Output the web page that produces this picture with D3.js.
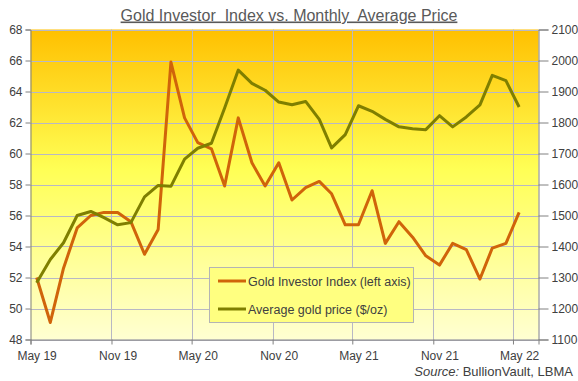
<!DOCTYPE html>
<html><head><meta charset="utf-8">
<script src="https://cdn.jsdelivr.net/npm/d3@7"></script>
<style>body{margin:0;background:#fff;} text{font-family:"Liberation Sans",Arial,sans-serif;}</style>
</head><body><svg id="c" width="578" height="381"></svg>
<script>
// Months May 2019 .. May 2022 (37 points)
const startMonth = [2019, 4]; // year, zero-based month (May 2019)
const investorIndex = [52.0,49.1,52.6,55.2,56.0,56.2,56.2,55.6,53.5,55.1,65.9,62.3,60.7,60.3,57.9,62.3,59.4,57.9,59.4,57.0,57.8,58.2,57.4,55.4,55.4,57.6,54.2,55.6,54.6,53.4,52.8,54.2,53.8,51.9,53.9,54.2,56.2];
const goldPrice = [1283,1358,1412,1500,1513,1493,1470,1477,1560,1597,1594,1682,1717,1733,1847,1969,1926,1904,1866,1857,1868,1810,1718,1761,1854,1836,1810,1786,1780,1777,1822,1786,1818,1857,1952,1935,1850];
const leftTicks = [48,50,52,54,56,58,60,62,64,66,68];
const rightTicks = [1100,1200,1300,1400,1500,1600,1700,1800,1900,2000,2100];
const xTickLabels = ["May 19","Nov 19","May 20","Nov 20","May 21","Nov 21","May 22"];
const seriesNames = ["Gold Investor Index (left axis)","Average gold price ($/oz)"];

const svg = d3.select("#c");
const L = 30.5, R = 538.5, T = 29.5, B = 339.5;

const dates = investorIndex.map((d,i)=> new Date(startMonth[0], startMonth[1]+i, 15));
const x = d3.scaleTime().domain([new Date(2019,4,1), new Date(2022,5,28)]).range([L,R]);
const yL = d3.scaleLinear().domain([48,68]).range([B,T]);
const yR = d3.scaleLinear().domain([1100,2100]).range([B,T]);

const defs = svg.append("defs");
const g = defs.append("linearGradient").attr("id","bg").attr("x1",0).attr("y1",0).attr("x2",0).attr("y2",1);
g.append("stop").attr("offset","0%").attr("stop-color","#FFC000");
g.append("stop").attr("offset","45%").attr("stop-color","#FFFF55");
g.append("stop").attr("offset","100%").attr("stop-color","#FFFFD2");
svg.append("rect").attr("x",L).attr("y",T).attr("width",R-L).attr("height",B-T).attr("fill","url(#bg)");

const tickDates = xTickLabels.map((s,i)=> new Date(2019, 4+6*i, 1));
// grid
svg.append("g").selectAll("line").data(leftTicks).join("line")
  .attr("x1",L).attr("x2",R).attr("y1",d=>Math.round(yL(d))+0.5).attr("y2",d=>Math.round(yL(d))+0.5)
  .attr("stroke","#B8B8C4").attr("stroke-width",1);
svg.append("g").selectAll("line").data(tickDates.slice(1)).join("line")
  .attr("x1",d=>Math.round(x(d))+0.5).attr("x2",d=>Math.round(x(d))+0.5).attr("y1",T).attr("y2",B)
  .attr("stroke","#B8B8C4").attr("stroke-width",1);

// axes
const axL = svg.append("g").attr("transform",`translate(${L},0)`)
  .call(d3.axisLeft(yL).tickValues(leftTicks).tickSize(5).tickPadding(3).tickFormat(d3.format("d")));
const axR = svg.append("g").attr("transform",`translate(${R},0)`)
  .call(d3.axisRight(yR).tickValues(rightTicks).tickSize(10).tickPadding(3).tickFormat(d3.format("d")));
const axB = svg.append("g").attr("transform",`translate(0,${B})`)
  .call(d3.axisBottom(x).tickValues(tickDates).tickSize(5).tickFormat(""));
[axL,axR,axB].forEach(a=>{
  a.select(".domain").attr("stroke","#808080");
  a.selectAll(".tick line").attr("stroke","#808080");
  a.selectAll("text").attr("fill","#404040").style("font-size","12px").style("font-family","Liberation Sans, Arial, sans-serif");
});
// x labels centered at mid-month
svg.append("g").selectAll("text").data(tickDates).join("text")
  .attr("x",d=>x(new Date(d.getFullYear(), d.getMonth(), 16))).attr("y",360)
  .attr("text-anchor","middle").attr("fill","#404040").style("font-size","12px")
  .text((d,i)=>xTickLabels[i]);

// lines
const lineL = d3.line().x((d,i)=>x(dates[i])).y(d=>yL(d));
const lineR = d3.line().x((d,i)=>x(dates[i])).y(d=>yR(d));
svg.append("path").datum(investorIndex).attr("d",lineL).attr("fill","none")
  .attr("stroke","#D0640A").attr("stroke-width",3).attr("stroke-linejoin","round");
svg.append("path").datum(goldPrice).attr("d",lineR).attr("fill","none")
  .attr("stroke","#7F7F00").attr("stroke-width",3).attr("stroke-linejoin","round");

// legend
const lg = svg.append("g");
lg.append("rect").attr("x",209.5).attr("y",267.5).attr("width",204).attr("height",55)
  .attr("fill","#FFFF80").attr("stroke","#B4B4B4");
const lc = ["#D0640A","#7F7F00"];
seriesNames.forEach((n,i)=>{
  const yy = 281 + i*28;
  lg.append("line").attr("x1",218).attr("x2",246).attr("y1",yy).attr("y2",yy).attr("stroke",lc[i]).attr("stroke-width",3);
  lg.append("text").attr("x",248).attr("y",yy+4.5).attr("fill","#404040").style("font-size","12.5px").text(n);
});

// title
svg.append("text").attr("x",289).attr("y",20.5).attr("text-anchor","middle").attr("fill","#595959")
  .style("font-size","16px").style("text-decoration","underline").style("white-space","pre")
  .text("Gold Investor  Index vs. Monthly  Average Price");

// source
const src = svg.append("text").attr("x",573).attr("y",376).attr("text-anchor","end").attr("fill","#404040").style("font-size","13px");
src.append("tspan").style("font-style","italic").text("Source:");
src.append("tspan").text(" BullionVault, LBMA");
</script></body></html>
